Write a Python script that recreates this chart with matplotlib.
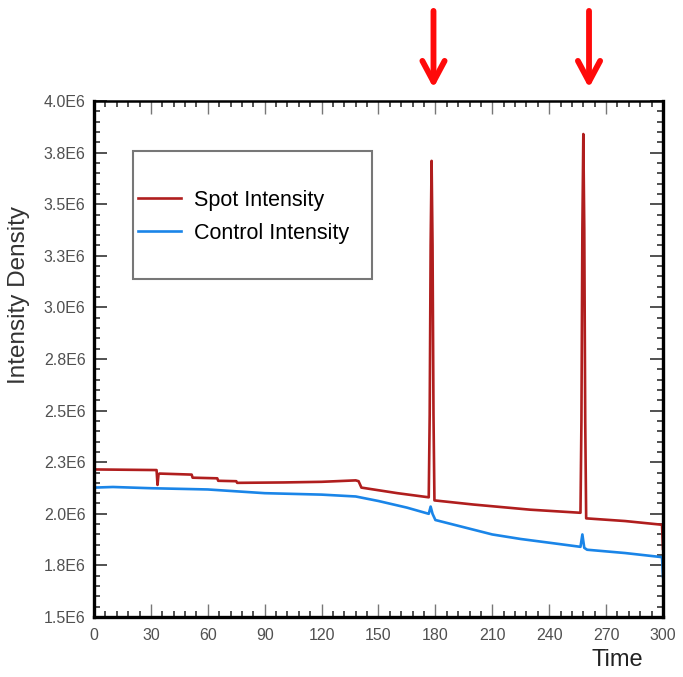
import matplotlib
matplotlib.use("Agg")
import matplotlib.pyplot as plt
from matplotlib.patches import Rectangle
from matplotlib.ticker import MultipleLocator

plt.rcParams['font.family'] = ['Liberation Sans', 'DejaVu Sans']

# spot intensity (values in units of 1e6)
spot_t = [0, 33, 33.5, 34, 34.5, 51.5, 52, 65, 65.5, 75, 75.5, 100, 120, 138,
          139.5, 141, 160, 176.5, 177, 177.5, 178, 178.5, 179, 179.5, 200, 230,
          256.5, 257, 257.5, 258, 258.5, 259, 259.5, 280, 299.5, 300]
spot_v = [2.215, 2.212, 2.14, 2.19, 2.195, 2.19, 2.175, 2.172, 2.16, 2.158, 2.15,
          2.152, 2.155, 2.162, 2.158, 2.127, 2.10, 2.08, 2.48, 3.30, 3.71, 3.30,
          2.48, 2.065, 2.045, 2.02, 2.005, 2.45, 3.38, 3.84, 3.38, 2.45, 1.978,
          1.965, 1.947, 1.83]

# control intensity
ctrl_t = [0, 10, 30, 60, 90, 120, 138, 150, 165, 176.5, 177.5, 178.5, 180, 195,
          210, 225, 240, 256.5, 257.5, 258.5, 260, 280, 299.5, 300]
ctrl_v = [2.127, 2.13, 2.124, 2.118, 2.10, 2.093, 2.084, 2.062, 2.03, 2.0, 2.035,
          2.0, 1.97, 1.935, 1.90, 1.878, 1.86, 1.84, 1.90, 1.835, 1.826, 1.81,
          1.79, 1.695]

x_ticks = [0, 30, 60, 90, 120, 150, 180, 210, 240, 270, 300]
y_ticks = [1.5e6, 1.75e6, 2.0e6, 2.25e6, 2.5e6, 2.75e6, 3.0e6, 3.25e6, 3.5e6, 3.75e6, 4.0e6]
y_labels = ['1.5E6', '1.8E6', '2.0E6', '2.3E6', '2.5E6', '2.8E6', '3.0E6', '3.3E6', '3.5E6', '3.8E6', '4.0E6']
arrow_t = [179, 261]

fig = plt.figure(figsize=(6.83, 6.77), dpi=100)
ax = fig.add_axes([0.1376, 0.0886, 0.8331, 0.7622])

spot_col = '#b01e1e'
ctrl_col = '#1a85e8'
ax.plot(spot_t, [v * 1e6 for v in spot_v], color=spot_col, lw=1.9, label='Spot Intensity')
ax.plot(ctrl_t, [v * 1e6 for v in ctrl_v], color=ctrl_col, lw=1.9, label='Control Intensity')

ax.set_xlim(0, 300)
ax.set_ylim(1.5e6, 4.0e6)
ax.set_xticks(x_ticks)
ax.set_yticks(y_ticks)
ax.set_yticklabels(y_labels)
ax.xaxis.set_minor_locator(MultipleLocator(6))
ax.yaxis.set_minor_locator(MultipleLocator(0.05e6))

ax.tick_params(axis='both', which='both', direction='in', top=True, right=True,
               labelsize=11.5, labelcolor='#505050')
ax.tick_params(axis='x', which='major', length=9.5, width=1.0, color='#777777', pad=8)
ax.tick_params(axis='x', which='minor', length=4, width=1.2, color='#333333')
ax.tick_params(axis='y', which='major', length=9.5, width=1.2, color='#333333', pad=6)
ax.tick_params(axis='y', which='minor', length=4, width=1.2, color='#333333')

for side in ['left', 'bottom', 'right']:
    ax.spines[side].set_linewidth(2.4)
ax.spines['top'].set_linewidth(1.8)

ax.set_ylabel('Intensity Density', fontsize=17.5, color='#333333')
ax.yaxis.set_label_coords(-0.113, 0.624)
ax.set_xlabel('Time', fontsize=17, color='#222222')
ax.xaxis.set_label_coords(0.92, -0.062)

# legend box
ax.add_patch(Rectangle((0.0685, 0.655), 0.42, 0.248, transform=ax.transAxes,
                       fill=False, edgecolor='#777777', lw=1.5, zorder=5))
ax.legend(loc='center left', bbox_to_anchor=(0.078, 0.776), frameon=False,
          fontsize=15.5, handlelength=2.0, handletextpad=0.6, labelspacing=0.55,
          borderaxespad=0, borderpad=0)

# arrows above the plot
for t in arrow_t:
    ax.annotate('', xy=(t, 1.02), xytext=(t, 1.18), xycoords=ax.get_xaxis_transform(),
                textcoords=ax.get_xaxis_transform(), annotation_clip=False,
                arrowprops=dict(arrowstyle='->,head_length=1.5,head_width=0.8',
                                color='#ff0a0a', lw=4.2))

fig.savefig('out.png', dpi=100)
